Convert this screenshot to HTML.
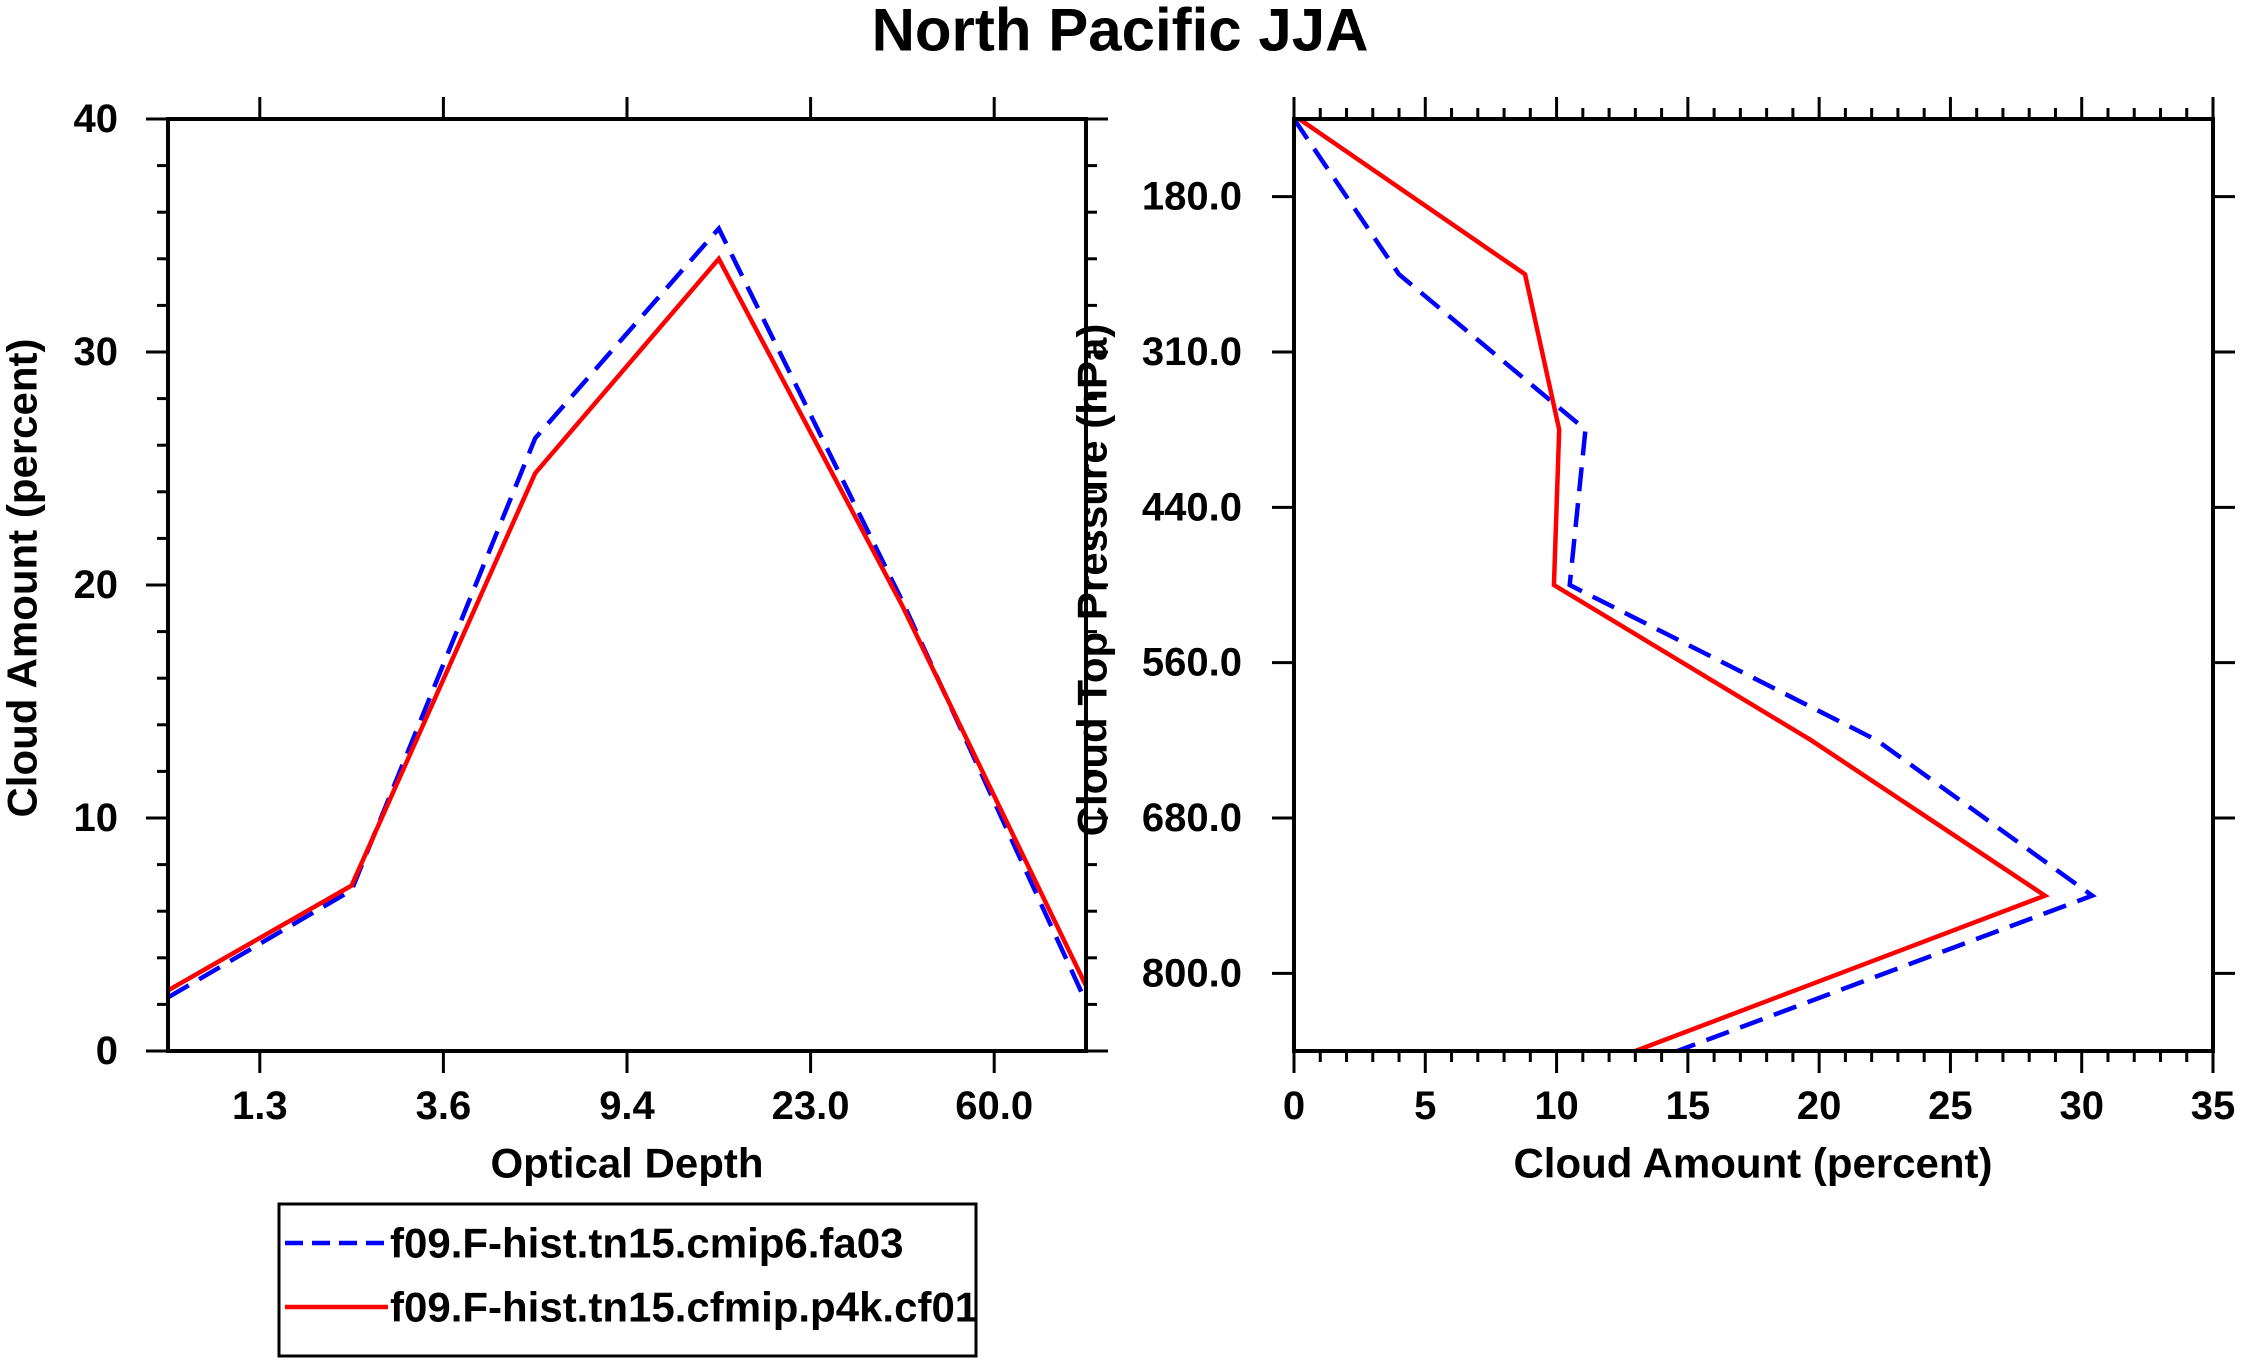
<!DOCTYPE html>
<html><head><meta charset="utf-8"><style>
html,body{margin:0;padding:0;background:#fff;}
svg{display:block;font-family:"Liberation Sans",sans-serif;font-weight:bold;}
</style></head><body>
<svg id="c" width="2241" height="1364" viewBox="0 0 2241 1364"></svg>
<script>
const leftCats = ["1.3","3.6","9.4","23.0","60.0"];
const leftBlue = [2.3, 6.9, 26.3, 35.3, 19.3, 2.1];
const leftRed = [2.6, 7.1, 24.8, 34.0, 19.1, 2.8];
const leftYTicks = [0,10,20,30,40];
const rightYCats = ["180.0","310.0","440.0","560.0","680.0","800.0"];
const rightBlue = [0, 4.0, 11.1, 10.5, 22.2, 30.4, 14.6];
const rightRed = [0.2, 8.8, 10.1, 9.9, 19.7, 28.6, 13.0];
const rightXTicks = [0,5,10,15,20,25,30,35];

const NS="http://www.w3.org/2000/svg";
const svg=document.getElementById('c');
function mk(t,a,p){const e=document.createElementNS(NS,t);for(const k in a)e.setAttribute(k,a[k]);(p||svg).appendChild(e);return e;}
function txt(s,x,y,size,anchor,p,rot){const e=mk('text',{x:x,y:y,'font-size':size,'text-anchor':anchor||'middle','dominant-baseline':'central'},p);if(rot)e.setAttribute('transform','rotate('+rot+' '+x+' '+y+')');e.textContent=s;return e;}

const T=119,B=1051,TK=40,AT=42,SW=4.5;
const title=txt("North Pacific JJA",1120,30,60);



// LEFT PANEL
const L0=168,L1=1086;
const lx=i=>L0+(L1-L0)*i/5;
const ly=v=>B-(B-T)*v/40;
const gl=mk('g',{});


for(let v=0;v<=40;v+=2){
  const big=v%10===0;
  mk('line',{x1:L0-(big?22:11),x2:L0,y1:ly(v),y2:ly(v),stroke:'#000','stroke-width':3},gl);
  mk('line',{x1:L1,x2:L1+(big?22:11),y1:ly(v),y2:ly(v),stroke:'#000','stroke-width':3},gl);
}
leftYTicks.forEach(v=>{const t=txt(String(v),L0-50,ly(v),TK,'end',gl);

});
leftCats.forEach((c,i)=>{const x=lx(i+0.5);
  mk('line',{x1:x,x2:x,y1:T-22,y2:T,stroke:'#000','stroke-width':3},gl);
  mk('line',{x1:x,x2:x,y1:B,y2:B+22,stroke:'#000','stroke-width':3},gl);
  const t=txt(c,x,1106,TK,'middle',gl);
  
  });
function poly(vals,fx,fy,color,dash,p,name){
  const pts=vals.map((v,i)=>fx(v,i)+','+fy(v,i)).join(' ');
  const e=mk('polyline',{points:pts,fill:'none',stroke:color,'stroke-width':SW,'stroke-linejoin':'miter'},p);
  if(dash)e.setAttribute('stroke-dasharray',dash);
  
  
}
poly(leftBlue,(v,i)=>lx(i),(v)=>ly(v),'#0000ff','24 12',gl,'left-series-fa03');
poly(leftRed,(v,i)=>lx(i),(v)=>ly(v),'#ff0000',null,gl,'left-series-p4k');
mk('rect',{x:L0,y:T,width:L1-L0,height:B-T,fill:'none',stroke:'#000','stroke-width':4},gl);
const ltx=txt("Optical Depth",627,1163,AT,'middle',gl);


const lty=txt("Cloud Amount (percent)",22,578,AT,'middle',gl,-90);



// RIGHT PANEL
const R0=1294,R1=2213;
const rx=v=>R0+(R1-R0)*v/35;
const ry=i=>T+(B-T)*i/6;
const gr=mk('g',{});


for(let v=0;v<=35;v++){
  const big=v%5===0;
  mk('line',{x1:rx(v),x2:rx(v),y1:T-(big?22:11),y2:T,stroke:'#000','stroke-width':3},gr);
  mk('line',{x1:rx(v),x2:rx(v),y1:B,y2:B+(big?22:11),stroke:'#000','stroke-width':3},gr);
}
rightXTicks.forEach(v=>{const t=txt(String(v),rx(v),1106,TK,'middle',gr);

});
rightYCats.forEach((c,i)=>{const y=ry(i+0.5);
  mk('line',{x1:R0-22,x2:R0,y1:y,y2:y,stroke:'#000','stroke-width':3},gr);
  mk('line',{x1:R1,x2:R1+22,y1:y,y2:y,stroke:'#000','stroke-width':3},gr);
  const t=txt(c,R0-52,y,TK,'end',gr);
  
  });
poly(rightBlue,(v)=>rx(v),(v,i)=>ry(i),'#0000ff','24 12',gr,'right-series-fa03');
poly(rightRed,(v)=>rx(v),(v,i)=>ry(i),'#ff0000',null,gr,'right-series-p4k');
mk('rect',{x:R0,y:T,width:R1-R0,height:B-T,fill:'none',stroke:'#000','stroke-width':4},gr);
const rtx=txt("Cloud Amount (percent)",1753,1163,AT,'middle',gr);


const rty=txt("Cloud Top Pressure (hPa)",1092,580,AT,'middle',gr,-90);



// LEGEND
const lg=mk('g',{});


mk('rect',{x:279,y:1204,width:697,height:152,fill:'#fff',stroke:'#000','stroke-width':3},lg);
const e1=mk('g',{},lg);


mk('line',{x1:285,x2:388,y1:1243,y2:1243,stroke:'#0000ff','stroke-width':SW,'stroke-dasharray':'18 9'},e1);
txt("f09.F-hist.tn15.cmip6.fa03",390,1243,AT,'start',e1);
const e2=mk('g',{},lg);


mk('line',{x1:285,x2:388,y1:1307,y2:1307,stroke:'#ff0000','stroke-width':SW},e2);
txt("f09.F-hist.tn15.cfmip.p4k.cf01",390,1307,AT,'start',e2);
</script>
</body></html>
